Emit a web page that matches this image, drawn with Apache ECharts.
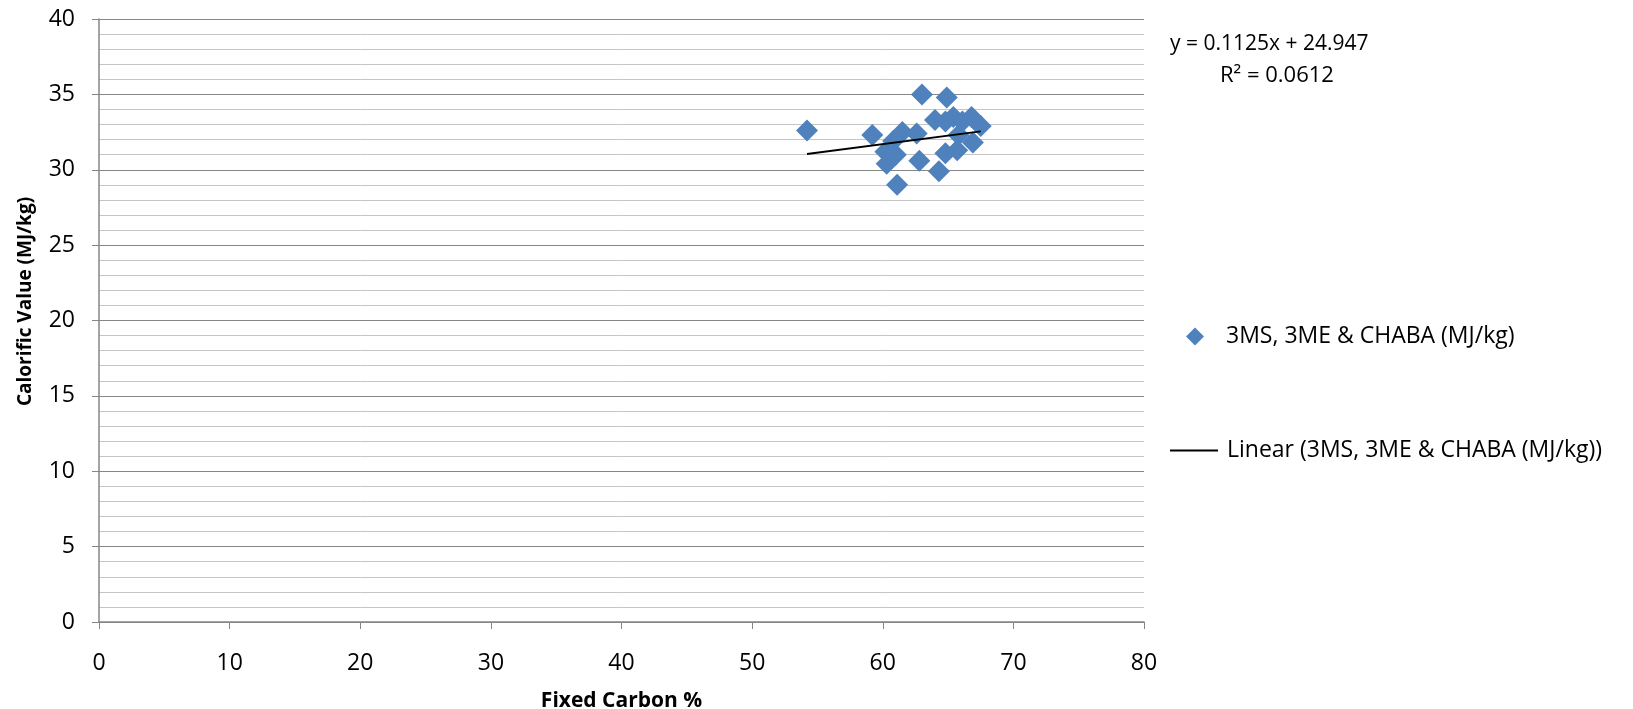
<!DOCTYPE html>
<html>
<head>
<meta charset="utf-8">
<title>Calorific Value vs Fixed Carbon</title>
<script src="https://cdn.jsdelivr.net/npm/echarts@6/dist/echarts.min.js"></script>
<style>
  html, body { margin: 0; padding: 0; background: #fff; }
  #chart { width: 1633px; height: 709px; }
</style>
</head>
<body>
<div id="chart"></div>
<script>
// fixed carbon % (x) and calorific value MJ/kg (y)
var fixedCarbon = [54.2, 59.2, 60.2, 60.3, 60.8, 61.0, 61.1, 61.5, 62.6, 62.8, 63.0, 64.0,
                   64.3, 64.8, 64.8, 64.9, 65.4, 65.7, 65.8, 66.1, 66.8, 66.9, 67.5];
var calorific   = [32.6, 32.3, 31.2, 30.4, 31.9, 31.0, 29.0, 32.5, 32.4, 30.6, 35.0, 33.3,
                   29.9, 33.2, 31.1, 34.8, 33.5, 31.3, 32.3, 33.2, 33.5, 31.8, 32.9];

// trendline as printed on the chart
var slope = 0.1125;
var intercept = 24.947;
var r2 = 0.0612;

var seriesName = '3MS, 3ME & CHABA (MJ/kg)';
var trendName = 'Linear (3MS, 3ME & CHABA (MJ/kg))';

var points = fixedCarbon.map(function (x, i) { return [x, calorific[i]]; });
var xMin = Math.min.apply(null, fixedCarbon);
var xMax = Math.max.apply(null, fixedCarbon);
var trend = [[xMin, slope * xMin + intercept], [xMax, slope * xMax + intercept]];

var font = 'Open Sans, Noto Sans, sans-serif';
var axisGray = '#868686';

var chart = echarts.init(document.getElementById('chart'));

var option = {
    animation: false,
    grid: { left: 99, right: 489, top: 19, bottom: 87, containLabel: false, outerBoundsMode: 'none' },
    xAxis: {
        type: 'value',
        min: 0, max: 80, interval: 10,
        name: 'Fixed Carbon %',
        nameLocation: 'middle',
        nameGap: 69,
        nameTextStyle: { fontFamily: font, fontWeight: 'bold', fontSize: 21, color: '#000' },
        axisLine: { show: true, lineStyle: { color: axisGray, width: 1.5 } },
        axisTick: { show: true, inside: false, length: 7, lineStyle: { color: axisGray } },
        axisLabel: { fontFamily: font, fontSize: 23, color: '#000', margin: 30 },
        splitLine: { show: false }
    },
    yAxis: {
        type: 'value',
        min: 0, max: 40, interval: 5,
        name: 'Calorific Value (MJ/kg)',
        nameLocation: 'middle',
        nameGap: 64,
        nameTextStyle: { fontFamily: font, fontWeight: 'bold', fontSize: 19, color: '#000', padding: [0, 0, 0, 38] },
        axisLine: { show: true, lineStyle: { color: axisGray, width: 1.5 } },
        axisTick: { show: true, inside: false, length: 7, lineStyle: { color: axisGray } },
        axisLabel: { fontFamily: font, fontSize: 23, color: '#000', margin: 24 },
        splitLine: { show: true, lineStyle: { color: axisGray, width: 1.2 } },
        minorTick: { show: false, splitNumber: 5 },
        minorSplitLine: { show: true, lineStyle: { color: '#C4C4C4', width: 1 } }
    },
    legend: [
        {
            data: [{ name: seriesName, icon: 'diamond' }],
            left: 1181, top: 320,
            itemWidth: 18, itemHeight: 18,
            itemStyle: { color: '#4F81BD', opacity: 1 },
            textStyle: { fontFamily: font, fontSize: 23, color: '#000', padding: [0, 0, 0, 17] }
        },
        {
            data: [{ name: trendName, icon: 'rect' }],
            left: 1165, top: 434,
            itemWidth: 48, itemHeight: 2,
            itemStyle: { color: '#000' },
            textStyle: { fontFamily: font, fontSize: 23, color: '#000', padding: [0, 0, 0, 4] }
        }
    ],
    graphic: [
        {
            type: 'text', left: 1170, top: 34,
            style: { text: 'y = ' + slope + 'x + ' + intercept, font: '21px ' + font, fill: '#000' }
        },
        {
            type: 'text', left: 1220, top: 65,
            style: { text: 'R\u00b2 = ' + r2, font: '22px ' + font, fill: '#000' }
        }
    ],
    series: [
        {
            name: seriesName,
            type: 'scatter',
            symbol: 'diamond',
            symbolSize: 22,
            itemStyle: { color: '#4F81BD', opacity: 1 },
            data: points,
            z: 2
        },
        {
            name: trendName,
            type: 'line',
            symbol: 'none',
            lineStyle: { color: '#000', width: 1.8 },
            itemStyle: { color: '#000' },
            data: trend,
            z: 3
        }
    ]
};

chart.setOption(option);
</script>
</body>
</html>
